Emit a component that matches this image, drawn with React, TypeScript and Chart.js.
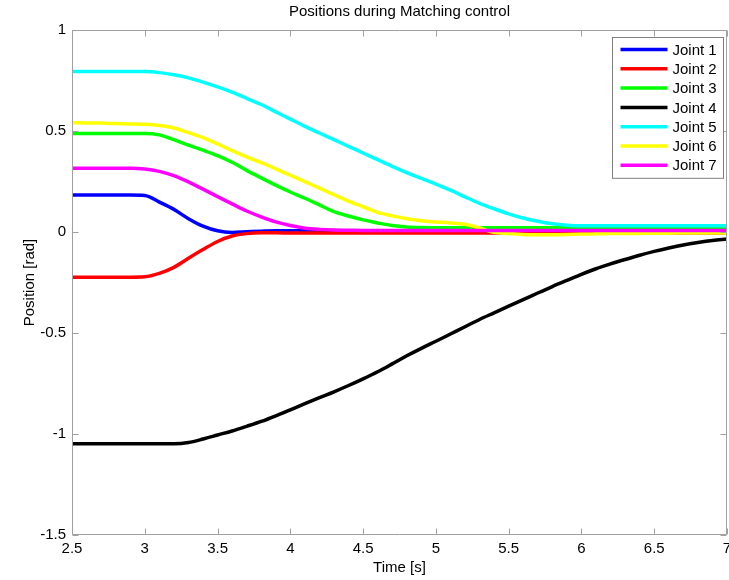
import React, { useEffect, useRef } from "react";
import { Chart, registerables } from "chart.js";

Chart.register(...registerables);

const FONT = "'Liberation Sans', Arial, Helvetica, sans-serif";

const chartTitle = "Positions during Matching control";
const xTitle = "Time [s]";
const yTitle = "Position [rad]";

const time = [
  2.5, 2.6, 2.7, 2.8, 2.9, 3.0, 3.1, 3.2, 3.3, 3.4, 3.5, 3.6, 3.7, 3.8, 3.9, 4.0,
  4.1, 4.2, 4.3, 4.4, 4.5, 4.6, 4.7, 4.8, 4.9, 5.0, 5.1, 5.2, 5.3, 5.4, 5.5, 5.6,
  5.7, 5.8, 5.9, 6.0, 6.1, 6.2, 6.3, 6.4, 6.5, 6.6, 6.7, 6.8, 6.9, 7.0,
];

const joint1 = [
  0.183, 0.183, 0.183, 0.183, 0.183, 0.181, 0.148, 0.112, 0.066, 0.029, 0.006, -0.002, 0.001, 0.004, 0.006, 0.006,
  0.006, 0.006, 0.006, 0.006, 0.005, 0.005, 0.005, 0.005, 0.005, 0.005, 0.005, 0.005, 0.005, 0.005,
  0.005, 0.005, 0.005, 0.005, 0.005, 0.005, 0.005, 0.005, 0.005, 0.005,
  0.005, 0.005, 0.005, 0.005, 0.005, 0.005,
];

const joint2 = [
  -0.224, -0.224, -0.224, -0.224, -0.224, -0.222, -0.205, -0.175, -0.13, -0.087, -0.047, -0.02, -0.008, -0.004, -0.004, -0.005,
  -0.005, -0.005, -0.005, -0.005, -0.005, -0.005, -0.005, -0.005, -0.005, -0.005,
  -0.005, -0.005, -0.005, -0.005, -0.005, -0.005, -0.005, -0.005, -0.005, -0.005,
  -0.005, -0.005, -0.005, -0.005, -0.005, -0.005, -0.005, -0.005, -0.005, -0.005,
];

const joint3 = [
  0.488, 0.488, 0.488, 0.488, 0.488, 0.488, 0.481, 0.457, 0.43, 0.405, 0.378, 0.345, 0.305, 0.268, 0.232, 0.198,
  0.167, 0.134, 0.101, 0.079, 0.06, 0.045, 0.032, 0.025, 0.022, 0.021,
  0.021, 0.021, 0.021, 0.021, 0.021, 0.021, 0.021, 0.021, 0.021, 0.021,
  0.021, 0.021, 0.021, 0.021, 0.021, 0.021, 0.021, 0.021, 0.021, 0.021,
];

const joint4 = [
  -1.048, -1.048, -1.048, -1.048, -1.048, -1.048, -1.048, -1.048, -1.042, -1.025, -1.005, -0.985, -0.962, -0.938, -0.91, -0.88,
  -0.85, -0.82, -0.791, -0.76, -0.727, -0.692, -0.653, -0.613, -0.576, -0.541,
  -0.505, -0.469, -0.433, -0.4, -0.367, -0.335, -0.302, -0.27, -0.24, -0.21,
  -0.182, -0.158, -0.136, -0.115, -0.096, -0.079, -0.064, -0.052, -0.042, -0.035,
];

const joint5 = [
  0.794, 0.794, 0.794, 0.794, 0.794, 0.794, 0.789, 0.778, 0.763, 0.742, 0.718, 0.692, 0.662, 0.631, 0.595, 0.559,
  0.523, 0.49, 0.457, 0.424, 0.391, 0.358, 0.325, 0.294, 0.265, 0.237,
  0.207, 0.174, 0.142, 0.115, 0.09, 0.069, 0.053, 0.041, 0.034, 0.031,
  0.031, 0.031, 0.031, 0.031, 0.031, 0.031, 0.031, 0.031, 0.031, 0.031,
];

const joint6 = [
  0.541, 0.54, 0.539, 0.537, 0.535, 0.533, 0.527, 0.515, 0.492, 0.467, 0.436, 0.403, 0.372, 0.343, 0.313, 0.281,
  0.249, 0.217, 0.185, 0.153, 0.125, 0.097, 0.08, 0.066, 0.056, 0.05,
  0.045, 0.038, 0.02, -0.002, -0.008, -0.012, -0.013, -0.013, -0.012, -0.01,
  -0.009, -0.008, -0.008, -0.007, -0.006, -0.006, -0.005, -0.005, -0.005, -0.005,
];

const joint7 = [
  0.315, 0.315, 0.315, 0.315, 0.315, 0.312, 0.3, 0.279, 0.248, 0.212, 0.175, 0.139, 0.104, 0.075, 0.05, 0.032,
  0.019, 0.013, 0.01, 0.009, 0.008, 0.008, 0.008, 0.008, 0.008, 0.008,
  0.008, 0.008, 0.008, 0.008, 0.008, 0.008, 0.008, 0.008, 0.008, 0.008,
  0.008, 0.008, 0.008, 0.008, 0.008, 0.008, 0.008, 0.008, 0.008, 0.008,
];

const seriesLabels = ["Joint 1", "Joint 2", "Joint 3", "Joint 4", "Joint 5", "Joint 6", "Joint 7"];
const seriesValues = [joint1, joint2, joint3, joint4, joint5, joint6, joint7];
const seriesColors = ["#0000ff", "#ff0000", "#00ff00", "#000000", "#00ffff", "#ffff00", "#ff00ff"];

const xMin = 2.5;
const xMax = 7;
const xStep = 0.5;
const yMin = -1.5;
const yMax = 1;
const yStep = 0.5;

const FRAME = "#a0a0a0";

const fmt = (v: any) => String(Math.round(Number(v) * 100) / 100);

const matlabPlugin = {
  id: "matlabFrame",
  afterDatasetsDraw(chart: any) {
    const { ctx, chartArea: a, scales } = chart;
    const xs = scales.x;
    const ys = scales.y;
    ctx.save();
    ctx.strokeStyle = FRAME;
    ctx.lineWidth = 1;
    const L = Math.round(a.left) + 0.5;
    const R = Math.round(a.right) - 0.5;
    const T = Math.round(a.top) + 0.5;
    const B = Math.round(a.bottom) - 0.5;
    ctx.beginPath();
    ctx.rect(L, T, R - L, B - T);
    ctx.stroke();
    const tl = 6;
    ctx.beginPath();
    xs.ticks.forEach((t: any) => {
      const px = Math.round(xs.getPixelForValue(t.value)) + 0.5;
      ctx.moveTo(px, B);
      ctx.lineTo(px, B - tl);
      ctx.moveTo(px, T);
      ctx.lineTo(px, T + tl);
    });
    ys.ticks.forEach((t: any) => {
      const py = Math.round(ys.getPixelForValue(t.value)) + 0.5;
      ctx.moveTo(L, py);
      ctx.lineTo(L + tl, py);
      ctx.moveTo(R, py);
      ctx.lineTo(R - tl, py);
    });
    ctx.stroke();

    ctx.fillStyle = "#000";
    ctx.font = `15px ${FONT}`;
    ctx.textAlign = "center";
    ctx.textBaseline = "middle";
    ctx.fillText(chartTitle, (a.left + a.right) / 2, 12);

    const ds = chart.data.datasets;
    const rowH = 19.3;
    const boxW = 111;
    const boxL = Math.round(a.right - 115) + 0.5;
    const boxT = Math.round(a.top + 7) + 0.5;
    const boxH = 12 + rowH * (ds.length - 1) + 13;
    ctx.fillStyle = "#fff";
    ctx.fillRect(boxL, boxT, boxW, boxH);
    ctx.strokeStyle = "#808080";
    ctx.lineWidth = 1;
    ctx.strokeRect(boxL, boxT, boxW, boxH);
    ctx.font = `15px ${FONT}`;
    ctx.textAlign = "left";
    ctx.textBaseline = "middle";
    ds.forEach((d: any, i: number) => {
      const cy = boxT + 12 + i * rowH;
      ctx.strokeStyle = d.borderColor;
      ctx.lineWidth = 3.5;
      ctx.beginPath();
      ctx.moveTo(boxL + 8, cy);
      ctx.lineTo(boxL + 55, cy);
      ctx.stroke();
      ctx.fillStyle = "#000";
      ctx.fillText(d.label, boxL + 60, cy + 1);
    });
    ctx.restore();
  },
};

export default function App() {
  const ref = useRef<HTMLCanvasElement>(null);

  useEffect(() => {
    document.body.style.margin = "0";
    const canvas = ref.current;
    if (!canvas) return;
    const datasets = seriesLabels.map((label, i) => ({
      label,
      data: time.map((t, k) => ({ x: t, y: seriesValues[i][k] })),
      borderColor: seriesColors[i],
      backgroundColor: seriesColors[i],
      borderWidth: 3.5,
      pointRadius: 0,
      fill: false,
      cubicInterpolationMode: "monotone" as const,
      order: seriesLabels.length - i,
    }));

    const chart = new Chart(canvas, {
      type: "line",
      data: { datasets },
      plugins: [matlabPlugin],
      options: {
        responsive: false,
        animation: false,
        devicePixelRatio: 1,
        layout: { padding: { top: 30, right: 2, left: 0, bottom: 0 } },
        plugins: {
          legend: { display: false },
          title: { display: false },
          tooltip: { enabled: false },
        },
        scales: {
          x: {
            type: "linear",
            min: xMin,
            max: xMax,
            border: { display: false },
            grid: { display: false, drawTicks: false },
            ticks: {
              stepSize: xStep,
              color: "#000",
              padding: 5,
              maxRotation: 0,
              autoSkip: false,
              font: { family: FONT, size: 15 },
              callback: (v: any) => fmt(v),
            },
            title: {
              display: true,
              text: xTitle,
              color: "#000",
              font: { family: FONT, size: 15 },
              padding: { top: 0, bottom: 3 },
            },
            afterFit(scale: any) {
              scale.height = 45;
              scale.paddingLeft = 0;
              scale.paddingRight = 0;
            },
          },
          y: {
            type: "linear",
            min: yMin,
            max: yMax,
            border: { display: false },
            grid: { display: false, drawTicks: false },
            ticks: {
              stepSize: yStep,
              color: "#000",
              padding: 6,
              autoSkip: false,
              font: { family: FONT, size: 15 },
              callback: (v: any) => fmt(v),
            },
            title: {
              display: true,
              text: yTitle,
              color: "#000",
              font: { family: FONT, size: 15 },
              padding: { top: 21, bottom: 0 },
            },
            afterFit(scale: any) {
              scale.width = 72;
              scale.paddingTop = 0;
              scale.paddingBottom = 0;
            },
          },
        },
      },
    });
    return () => chart.destroy();
  }, []);

  return (
    <div style={{ width: 729, height: 580 }}>
      <canvas ref={ref} width={729} height={580} style={{ display: "block" }} />
    </div>
  );
}
